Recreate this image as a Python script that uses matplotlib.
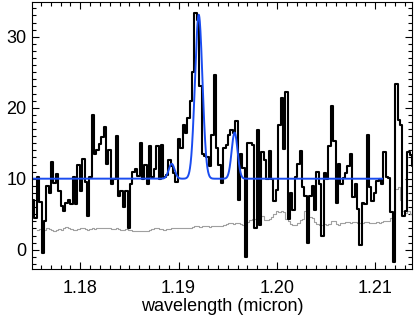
import matplotlib
matplotlib.use("Agg")
import matplotlib.pyplot as plt
import numpy as np
from matplotlib.ticker import MultipleLocator, FormatStrFormatter

# spectrum bins (micron), regular grid
wave_start = 1.17521
wave_step = 0.0002431

flux = np.array([
    7.0, 4.5, 10.3, 6.7, -0.5, 4.0, 9.0, 8.0, 12.4, 9.4, 10.6, 8.2, 6.1, 5.4, 6.6, 7.0,
    6.4, 10.2, 6.4, 11.9, 8.2, 12.8, 9.5, 4.7, 10.3, 19.0,
    13.5, 14.0, 14.9, 15.9, 17.3, 12.1, 14.0, 9.2, 10.0, 16.0, 7.5, 8.2, 6.0, 8.2, 3.05,
    9.2, 10.9, 11.3, 10.4, 15.0, 9.9, 11.9, 9.2, 14.6, 10.2, 11.3, 14.6,
    9.9, 14.8, 10.3, 10.5, 12.6, 11.8, 10.8, 9.6, 15.6, 14.3, 17.6, 16.4, 18.5, 20.9,
    25.1, 33.3, 32.3, 23.0, 13.5, 13.2, 13.1, 11.8, 16.1, 24.6, 14.3,
    12.0, 9.4, 14.3, 14.7, 16.2, 16.9, 16.5, 18.1, 7.0, 13.5, 11.5, -1.0, 15.1, 15.0,
    14.8, 3.0, 16.9, 3.5, 13.7, 12.7, 9.9, 13.9, 9.9, 6.8, 8.4, 17.6, 21.4,
    14.2, 22.2, 4.3, 8.0, 5.6, 10.2, 12.1, 13.9, 8.8, 7.6, 1.0, 7.5, 9.0, 5.6, 11.0,
    9.2, 1.9, 10.8, 9.9, 14.6, 20.3, 15.3, 6.6, 12.1, 9.3, 10.1,
    10.8, 11.8, 13.5, 7.4, 9.2, 5.7, 0.7, 6.6, 6.5, 16.2, 8.9, 6.8, 8.0, 9.7, 9.9, 9.2,
    13.7, 10.2, 10.1, 5.3, -1.7, 23.4, 18.3, 17.6, 4.8, 5.4, 13.7, 13.4, 11.8,
])

error = np.array([
    np.nan, np.nan,
    2.8, 2.9, 2.7, 2.8, 3.0, 2.9, 2.8, 2.7, 2.8, 2.9, 2.8, 3.1, 3.2, 3.0, 2.9, 2.8,
    2.8, 2.9, 3.0, 3.0, 2.9, 2.8, 2.9, 3.0,
    2.9, 3.0, 3.0, 3.1, 3.0, 3.0, 3.0, 2.9, 2.9, 3.0, 2.9, 2.8, 2.8, 2.9, 2.8, 2.8,
    2.7, 2.6, 2.6, 2.7, 2.6, 2.6, 2.7, 2.8, 2.9, 3.0, 3.1,
    2.9, 2.9, 2.8, 2.9, 2.9, 3.0, 3.0, 3.0, 3.0, 3.1, 3.0, 3.0, 3.0, 3.1, 3.2, 3.4,
    3.3, 3.2, 3.3, 3.3, 3.3, 3.2, 3.3, 3.4, 3.4, 3.4,
    3.4, 3.5, 3.6, 3.7, 3.7, 3.6, 3.7, 3.7, 3.6, 3.5, 3.7, 3.9, 4.2, 4.3, 4.3, 4.7,
    4.6, 4.7, 4.2, 4.2, 4.3, 4.6, 5.0, 5.4, 5.3, 5.4,
    5.3, 4.3, 4.0, 3.6, 3.5, 3.5, 3.8, 4.2, 4.3, 5.4, 5.6, 4.6, 4.4, 3.9, 3.6, 3.5,
    3.5, 3.6, 3.5, 3.6, 4.0, 4.0, 3.6, 3.5, 3.7, 3.8,
    3.9, 3.9, 3.8, 3.9, 3.9, 3.8, 3.8, 3.8, 3.9, 3.9, 3.8, 3.8, 3.8, 3.9, 3.8, 3.9,
    4.0, 4.0, 4.1, 4.5, 5.0, 8.5, 8.9, 7.0, 5.5, 5.2, 5.4, 5.0, 5.5,
])

wave = wave_start + wave_step * np.arange(len(flux))

# gaussian line fit: continuum + three lines
continuum = 10.0
line_centers = [1.18930, 1.19205, 1.19570]
line_peaks = [2.1, 23.1, 6.5]
line_sigmas = [0.00030, 0.00038, 0.00030]
fit_range = (1.17509, 1.2107)

fit_x = np.linspace(fit_range[0], fit_range[1], 3000)
fit_y = np.full_like(fit_x, continuum)
for c, a, s in zip(line_centers, line_peaks, line_sigmas):
    fit_y += a * np.exp(-0.5 * ((fit_x - c) / s) ** 2)

plt.rcParams['font.family'] = ['Liberation Sans', 'DejaVu Sans']

fig = plt.figure(figsize=(4.15, 3.22), dpi=100)
ax = fig.add_axes([0.077, 0.165, 0.916, 0.829])

ax.step(wave, error, where='mid', color='#a0a0a0', lw=0.8)
ax.step(wave, flux, where='mid', color='black', lw=1.5)
ax.plot(fit_x, fit_y, color='#1a4cf0', lw=1.4)

ax.set_xlim(1.17509, 1.21375)
ax.set_ylim(-2.7, 34.9)
ax.xaxis.set_major_locator(MultipleLocator(0.01))
ax.xaxis.set_minor_locator(MultipleLocator(0.001))
ax.yaxis.set_major_locator(MultipleLocator(10))
ax.yaxis.set_minor_locator(MultipleLocator(1))
ax.xaxis.set_major_formatter(FormatStrFormatter('%.2f'))

ax.tick_params(which='both', direction='in', top=True, right=True, width=0.8,
               labelsize=13)
ax.tick_params(which='major', length=5)
ax.tick_params(which='minor', length=3)
ax.tick_params(axis='x', pad=8)
ax.tick_params(axis='y', pad=4)
for sp in ax.spines.values():
    sp.set_linewidth(0.8)

ax.set_xlabel('wavelength (micron)', fontsize=13, labelpad=1)

fig.savefig('out.png', dpi=100)
